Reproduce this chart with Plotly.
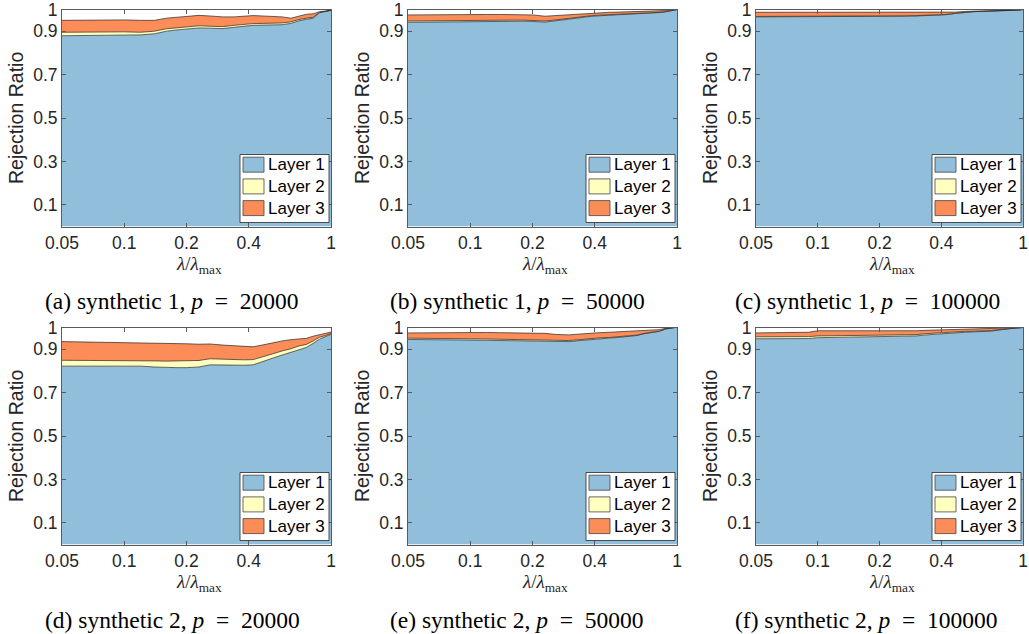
import plotly.graph_objects as go

W, H = 1029, 634

# ---------------- data ----------------
lam = [0.05, 0.06, 0.07, 0.08, 0.09, 0.10, 0.12, 0.14, 0.16, 0.18, 0.20, 0.23, 0.26, 0.30,
       0.34, 0.38, 0.42, 0.47, 0.52, 0.58, 0.64, 0.70, 0.76, 0.82, 0.88, 0.94, 0.97, 1.00]

x_tick_vals = [0.05, 0.1, 0.2, 0.4, 1]
x_tick_text = ["0.05", "0.1", "0.2", "0.4", "1"]
y_tick_vals = [0.1, 0.3, 0.5, 0.7, 0.9, 1]
y_tick_text = ["0.1", "0.3", "0.5", "0.7", "0.9", "1"]

layer_names = ["Layer 1", "Layer 2", "Layer 3"]
layer_colors = ["#91bfdb", "#ffffbf", "#fc8d59"]

# (a) synthetic 1, p = 20000
a_layer1 = [0.879, 0.880, 0.882, 0.884, 0.884, 0.884, 0.883, 0.888, 0.900, 0.906, 0.910, 0.915, 0.914, 0.912,
            0.918, 0.924, 0.927, 0.928, 0.929, 0.930, 0.936, 0.948, 0.955, 0.960, 0.985, 0.990, 0.994, 0.996]
a_layer2 = [0.016, 0.016, 0.015, 0.014, 0.013, 0.013, 0.012, 0.012, 0.011, 0.010, 0.010, 0.010, 0.009, 0.009,
            0.009, 0.008, 0.008, 0.008, 0.008, 0.008, 0.007, 0.006, 0.005, 0.004, 0.002, 0.001, 0.001, 0.0005]
a_layer3 = [0.055, 0.055, 0.055, 0.054, 0.055, 0.055, 0.055, 0.050, 0.049, 0.049, 0.050, 0.048, 0.047, 0.045,
            0.039, 0.038, 0.037, 0.034, 0.031, 0.028, 0.017, 0.016, 0.018, 0.016, 0.003, 0.002, 0.0005, 0.0005]

# (b) synthetic 1, p = 50000
b_layer1 = [0.941, 0.942, 0.943, 0.944, 0.945, 0.946, 0.946, 0.946, 0.946, 0.946, 0.945, 0.942, 0.948, 0.956,
            0.963, 0.968, 0.971, 0.973, 0.975, 0.977, 0.979, 0.982, 0.984, 0.986, 0.989, 0.995, 0.998, 1.000]
b_layer2 = [0.006, 0.006, 0.006, 0.006, 0.005, 0.005, 0.005, 0.005, 0.005, 0.005, 0.005, 0.005, 0.004, 0.004,
            0.003, 0.003, 0.003, 0.003, 0.002, 0.002, 0.002, 0.002, 0.002, 0.001, 0.001, 0.001, 0.000, 0.000]
b_layer3 = [0.028, 0.028, 0.028, 0.027, 0.027, 0.026, 0.026, 0.026, 0.026, 0.025, 0.025, 0.022, 0.020, 0.017,
            0.015, 0.013, 0.012, 0.011, 0.011, 0.010, 0.009, 0.007, 0.006, 0.006, 0.005, 0.002, 0.001, 0.000]

# (c) synthetic 1, p = 100000
c_layer1 = [0.966, 0.966, 0.966, 0.966, 0.966, 0.966, 0.966, 0.966, 0.966, 0.967, 0.967, 0.968, 0.969, 0.970,
            0.972, 0.973, 0.976, 0.982, 0.987, 0.990, 0.991, 0.992, 0.993, 0.993, 0.994, 0.996, 0.998, 1.000]
c_layer2 = [0.002, 0.002, 0.002, 0.002, 0.002, 0.002, 0.002, 0.002, 0.002, 0.002, 0.002, 0.002, 0.002, 0.002,
            0.002, 0.002, 0.001, 0.001, 0.001, 0.001, 0.001, 0.001, 0.001, 0.001, 0.001, 0.000, 0.000, 0.000]
c_layer3 = [0.019, 0.019, 0.019, 0.019, 0.019, 0.019, 0.019, 0.019, 0.019, 0.018, 0.017, 0.016, 0.015, 0.013,
            0.011, 0.010, 0.008, 0.005, 0.003, 0.002, 0.002, 0.002, 0.001, 0.001, 0.001, 0.001, 0.001, 0.000]

# (d) synthetic 2, p = 20000
d_layer1 = [0.822, 0.822, 0.822, 0.820, 0.819, 0.821, 0.822, 0.818, 0.815, 0.815, 0.815, 0.818, 0.828, 0.826,
            0.825, 0.826, 0.828, 0.842, 0.858, 0.873, 0.886, 0.900, 0.908, 0.927, 0.946, 0.958, 0.964, 0.969]
d_layer2 = [0.027, 0.027, 0.026, 0.027, 0.027, 0.026, 0.025, 0.028, 0.030, 0.030, 0.030, 0.030, 0.028, 0.027,
            0.026, 0.025, 0.024, 0.022, 0.020, 0.019, 0.016, 0.015, 0.014, 0.011, 0.009, 0.005, 0.004, 0.003]
d_layer3 = [0.086, 0.085, 0.085, 0.085, 0.085, 0.083, 0.082, 0.082, 0.082, 0.081, 0.080, 0.075, 0.068, 0.066,
            0.064, 0.061, 0.059, 0.056, 0.052, 0.046, 0.042, 0.031, 0.028, 0.022, 0.013, 0.011, 0.009, 0.007]

# (e) synthetic 2, p = 50000
e_layer1 = [0.945, 0.945, 0.944, 0.944, 0.943, 0.942, 0.941, 0.940, 0.938, 0.938, 0.938, 0.938, 0.936, 0.935,
            0.940, 0.945, 0.948, 0.951, 0.954, 0.957, 0.963, 0.972, 0.977, 0.982, 0.993, 0.999, 1.000, 1.000]
e_layer2 = [0.006, 0.006, 0.006, 0.006, 0.006, 0.006, 0.006, 0.006, 0.006, 0.005, 0.005, 0.005, 0.005, 0.005,
            0.004, 0.004, 0.004, 0.003, 0.003, 0.003, 0.002, 0.002, 0.002, 0.001, 0.001, 0.000, 0.000, 0.000]
e_layer3 = [0.024, 0.025, 0.026, 0.027, 0.028, 0.029, 0.030, 0.030, 0.032, 0.032, 0.032, 0.030, 0.027, 0.026,
            0.026, 0.025, 0.024, 0.024, 0.023, 0.022, 0.019, 0.012, 0.009, 0.007, 0.002, 0.000, 0.000, 0.000]

# (f) synthetic 2, p = 100000
f_layer1 = [0.948, 0.948, 0.948, 0.948, 0.949, 0.953, 0.954, 0.955, 0.955, 0.955, 0.956, 0.957, 0.957, 0.961,
            0.966, 0.970, 0.973, 0.976, 0.978, 0.980, 0.981, 0.983, 0.988, 0.993, 0.996, 0.998, 0.999, 1.000]
f_layer2 = [0.009, 0.009, 0.009, 0.009, 0.009, 0.008, 0.008, 0.008, 0.008, 0.008, 0.007, 0.007, 0.007, 0.006,
            0.006, 0.005, 0.005, 0.004, 0.004, 0.003, 0.003, 0.003, 0.002, 0.001, 0.001, 0.000, 0.000, 0.000]
f_layer3 = [0.018, 0.019, 0.019, 0.020, 0.020, 0.024, 0.023, 0.022, 0.022, 0.022, 0.022, 0.020, 0.019, 0.018,
            0.015, 0.013, 0.011, 0.010, 0.009, 0.009, 0.009, 0.008, 0.005, 0.002, 0.001, 0.001, 0.001, 0.000]

captions = [
    "(a)&nbsp;synthetic 1, <i>p</i>&nbsp;&nbsp;=&nbsp;&nbsp;20000",
    "(b)&nbsp;synthetic 1, <i>p</i>&nbsp;&nbsp;=&nbsp;&nbsp;50000",
    "(c)&nbsp;synthetic 1, <i>p</i>&nbsp;&nbsp;=&nbsp;&nbsp;100000",
    "(d)&nbsp;synthetic 2, <i>p</i>&nbsp;&nbsp;=&nbsp;&nbsp;20000",
    "(e)&nbsp;synthetic 2, <i>p</i>&nbsp;&nbsp;=&nbsp;&nbsp;50000",
    "(f)&nbsp;synthetic 2, <i>p</i>&nbsp;&nbsp;=&nbsp;&nbsp;100000",
]

panels = [
    (a_layer1, a_layer2, a_layer3),
    (b_layer1, b_layer2, b_layer3),
    (c_layer1, c_layer2, c_layer3),
    (d_layer1, d_layer2, d_layer3),
    (e_layer1, e_layer2, e_layer3),
    (f_layer1, f_layer2, f_layer3),
]

# ---------------- layout (pixel boxes of each axes) ----------------
col_px = [(62, 331), (408, 677), (756, 1023)]
row_px = [(9.5, 226.5), (327.5, 544.5)]
caption_left_px = [43, 388, 733]


def px_x(v):
    return v / W


def px_y(v):
    return 1 - v / H


AX_FONT = dict(family="Liberation Sans, Arial, sans-serif", size=17.5, color="#262626")
SERIF = "Liberation Serif, Times New Roman, serif"
FRAME = "#5a5a5a"

fig = go.Figure()
layout = dict(
    width=W, height=H,
    margin=dict(l=0, r=0, t=0, b=0, pad=0, autoexpand=False),
    paper_bgcolor="white", plot_bgcolor="white",
    showlegend=False,
)
shapes = []
annotations = []

for i, layers in enumerate(panels):
    r, c = divmod(i, 3)
    x0, x1 = col_px[c]
    y0, y1 = row_px[r]
    sfx = "" if i == 0 else str(i + 1)
    xa, ya = "x" + sfx, "y" + sfx

    for k, vals in enumerate(layers):
        fig.add_trace(go.Scatter(
            x=lam, y=vals, xaxis=xa, yaxis=ya,
            mode="lines", stackgroup="s%d" % i,
            line=dict(color="#262626", width=0.7),
            fillcolor=layer_colors[k], name=layer_names[k],
            hoverinfo="skip",
        ))

    common = dict(showline=True, linecolor=FRAME, linewidth=1, mirror="ticks",
                  ticks="inside", ticklen=4, tickcolor=FRAME, tickwidth=1,
                  showgrid=False, zeroline=False, tickfont=AX_FONT, automargin=False,
                  ticklabeloverflow="allow")
    layout["xaxis" + sfx] = dict(
        domain=[px_x(x0), px_x(x1)], anchor=ya, type="log",
        range=[-1.30103, 0], tickvals=x_tick_vals, ticktext=x_tick_text, **common)
    layout["yaxis" + sfx] = dict(
        domain=[px_y(y1), px_y(y0)], anchor=xa, range=[0, 1],
        tickvals=y_tick_vals, ticktext=y_tick_text, **common)

    # y-axis title
    annotations.append(dict(
        xref="paper", yref="paper", x=px_x(x0 - 46), y=px_y((y0 + y1) / 2),
        text="Rejection Ratio", textangle=-90, showarrow=False,
        xanchor="center", yanchor="middle",
        font=dict(family="Liberation Sans, Arial, sans-serif", size=19.5, color="#262626")))
    # x-axis title
    annotations.append(dict(
        xref="paper", yref="paper", x=px_x((x0 + x1) / 2 + 2), y=px_y(y1 + 38),
        text="<i>λ</i>/<i>λ</i><sub>max</sub>", showarrow=False,
        xanchor="center", yanchor="middle",
        font=dict(family=SERIF, size=19, color="#262626")))
    # caption
    annotations.append(dict(
        xref="paper", yref="paper", x=px_x(caption_left_px[c]), y=px_y(y1 + 75),
        text=captions[i], showarrow=False, xanchor="left", yanchor="middle",
        font=dict(family=SERIF, size=23.5, color="black")))

    # legend (drawn in the lower-right corner of the axes)
    bl, br = x1 - 91, x1 - 2
    bt, bb = y1 - 72, y1 - 4
    shapes.append(dict(type="rect", xref="paper", yref="paper",
                       x0=px_x(bl), x1=px_x(br), y0=px_y(bb), y1=px_y(bt),
                       fillcolor="white", line=dict(color="#262626", width=0.8), layer="above"))
    for k in range(3):
        st = bt + 2.7 + k * 21.7
        shapes.append(dict(type="rect", xref="paper", yref="paper",
                           x0=px_x(bl + 3), x1=px_x(bl + 24), y0=px_y(st + 15), y1=px_y(st),
                           fillcolor=layer_colors[k], line=dict(color="#444", width=0.8),
                           layer="above"))
        annotations.append(dict(
            xref="paper", yref="paper", x=px_x(bl + 26), y=px_y(st + 7.5),
            text=layer_names[k], showarrow=False, xanchor="left", yanchor="middle",
            font=dict(family="Liberation Sans, Arial, sans-serif", size=17, color="black")))

layout["shapes"] = shapes
layout["annotations"] = annotations
fig.update_layout(**layout)
fig.write_html("out.html", config={"displayModeBar": False},
               post_script="document.body.style.margin='0';document.body.style.overflow='hidden';")
